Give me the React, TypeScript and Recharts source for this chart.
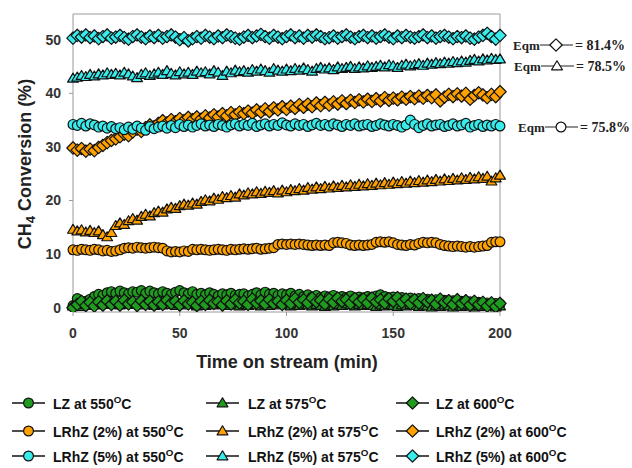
import React from "react";
import { ScatterChart, Scatter, XAxis, YAxis, ReferenceLine } from "recharts";

// Sampling times (min)
const times = [
  0, 2, 4, 6, 8, 10, 12, 14, 16, 18,
  20, 22, 24, 26, 28, 30, 32, 34, 36, 38,
  40, 42, 44, 46, 48, 50, 52, 54, 56, 58,
  60, 62, 64, 66, 68, 70, 72, 74, 76, 78,
  80, 82, 84, 86, 88, 90, 92, 94, 96, 98,
  100, 102, 104, 106, 108, 110, 112, 114, 116, 118,
  120, 122, 124, 126, 128, 130, 132, 134, 136, 138,
  140, 142, 144, 146, 148, 150, 152, 154, 156, 158,
  160, 162, 164, 166, 168, 170, 172, 174, 176, 178,
  180, 182, 184, 186, 188, 190, 192, 194, 196, 198,
  200,
];

// CH4 conversion (%) per catalyst / temperature
const lz550 = [
  0.4, 1.7, 0.9, 1.2, 1.6, 2.1, 2.5, 2.3, 2.8, 3.0,
  2.7, 3.1, 2.8, 2.6, 3.0, 2.9, 3.2, 2.7, 3.1, 2.8,
  2.6, 3.0, 2.7, 2.5, 2.9, 3.2, 2.8, 2.6, 3.0, 2.5,
  2.7, 2.4, 2.8, 2.5, 2.2, 2.6, 2.4, 2.7, 2.3, 2.5,
  2.6, 2.2, 2.5, 2.8, 2.4, 2.9, 2.5, 2.7, 2.3, 2.6,
  2.4, 2.7, 2.2, 2.5, 2.1, 2.4, 2.0, 2.3, 1.9, 2.2,
  2.0, 2.3, 1.8, 2.1, 1.9, 2.2, 1.7, 2.0, 1.8, 2.1,
  1.9, 2.2, 2.4, 2.1, 1.8, 2.0, 1.7, 1.9, 1.6, 1.8,
  1.5, 1.7, 1.4, 1.6, 1.3, 1.5, 1.2, 1.4, 1.1, 1.3,
  1.0, 1.2, 0.9, 1.1, 0.8, 1.0, 0.7, 0.9, 0.6, 0.8,
  0.7,
];
const lz575 = [
  0.3, 0.5, 0.2, 0.6, 0.4, 0.7, 0.5, 0.8, 0.6, 0.9,
  0.7, 0.5, 0.8, 0.6, 0.9, 0.7, 0.5, 0.8, 0.6, 0.4,
  0.7, 0.5, 0.8, 0.6, 0.4, 0.7, 0.5, 0.8, 0.6, 0.3,
  0.6, 0.4, 0.7, 0.5, 0.8, 0.6, 0.4, 0.7, 0.5, 0.3,
  0.6, 0.4, 0.7, 0.5, 0.3, 0.6, 0.4, 0.7, 0.5, 0.8,
  0.5, 0.3, 0.6, 0.4, 0.7, 0.5, 0.3, 0.6, 0.4, 0.2,
  0.5, 0.3, 0.6, 0.4, 0.7, 0.5, 0.3, 0.6, 0.4, 0.6,
  0.4, 0.2, 0.5, 0.3, 0.6, 0.4, 0.2, 0.5, 0.3, 0.6,
  0.4, 0.2, 0.5, 0.3, 0.1, 0.4, 0.2, 0.5, 0.3, 0.1,
  0.4, 0.2, 0.5, 0.3, 0.1, 0.4, 0.2, 0.5, 0.3, 0.1,
  0.3,
];
const lz600 = [
  0.0, 0.6, 1.2, 0.4, 1.0, 0.3, 1.1, 0.5, 1.3, 0.6,
  1.2, 0.5, 1.4, 0.7, 1.1, 0.4, 1.3, 0.6, 1.2, 0.5,
  1.1, 0.6, 1.4, 0.8, 1.2, 0.5, 1.3, 0.7, 1.0, 0.4,
  1.2, 0.6, 1.4, 0.8, 1.1, 0.5, 1.3, 0.7, 1.5, 0.9,
  1.2, 0.6, 1.6, 0.9, 1.3, 0.7, 1.5, 0.8, 1.2, 0.6,
  1.4, 0.8, 1.7, 1.0, 1.5, 0.9, 1.8, 1.1, 1.4, 0.7,
  1.6, 1.0, 1.8, 1.2, 1.5, 0.8, 1.7, 1.1, 1.6, 0.9,
  1.8, 1.1, 1.5, 0.9, 1.7, 1.2, 1.9, 1.0, 1.6, 0.8,
  1.5, 0.9, 1.7, 1.1, 1.4, 0.7, 1.6, 1.0, 1.3, 0.6,
  1.5, 0.8, 1.3, 0.5, 1.2, 0.6, 1.0, 0.3, 0.9, 0.2,
  0.8,
];
const rh2_550 = [
  10.8, 10.7, 10.9, 10.8, 10.7, 10.9, 10.8, 10.6, 10.7, 10.5,
  10.6, 10.8, 11.1, 11.2, 11.1, 11.3, 11.2, 11.1, 11.2, 11.3,
  11.2, 11.1, 10.6, 10.4, 10.5, 10.4, 10.6, 10.5, 10.9, 10.8,
  10.9, 10.8, 10.7, 10.8, 10.9, 10.8, 10.7, 10.9, 10.8, 10.9,
  11.0, 10.9, 11.0, 11.1, 10.9, 11.0, 11.1, 11.2, 11.8, 11.9,
  11.8, 11.9, 11.8, 11.9, 11.8, 11.7, 11.6, 11.7, 11.6, 11.7,
  11.6, 12.1, 12.2, 12.1, 12.0, 11.7, 11.6, 11.7, 11.6, 11.7,
  11.8, 12.2, 12.3, 12.2, 12.3, 12.1, 11.8, 11.7, 11.6, 11.8,
  11.7, 12.0, 12.2, 12.1, 12.2, 12.1, 11.8, 11.6, 11.5, 11.4,
  11.5, 11.4, 11.3, 11.4, 11.3, 11.4, 11.5, 11.6, 12.2, 12.3,
  12.3,
];
const rh2_575 = [
  14.6, 14.3, 14.5, 14.1, 14.4, 14.0, 14.3, 13.6, 13.2, 14.0,
  15.3, 15.8, 15.5, 16.2, 16.6, 16.3, 17.0, 17.4, 17.1, 17.7,
  18.0, 17.8, 18.4, 18.7, 18.5, 19.0, 19.3, 19.1, 19.5, 19.3,
  19.8, 20.1, 19.9, 20.4, 20.2, 20.7, 20.5, 20.9, 20.6, 21.2,
  21.0, 21.4, 21.2, 21.6, 21.3, 21.7, 21.5, 21.8, 21.4, 21.9,
  21.6, 22.0, 21.8, 22.2, 21.9, 22.4, 22.1, 22.5, 22.2, 22.6,
  22.3, 22.7, 22.4, 22.8, 22.5, 22.9, 22.6, 23.0, 22.7, 23.1,
  22.8, 23.2, 22.9, 23.3, 23.0, 23.4, 23.1, 23.5, 23.2, 23.6,
  23.3, 23.7, 23.4, 23.8, 23.5, 23.9, 23.6, 24.0, 23.7, 24.1,
  23.8, 24.2, 23.9, 24.3, 24.0, 24.4, 24.1, 24.5, 23.6, 24.2,
  24.7,
];
const rh2_600 = [
  29.8, 29.4, 29.7, 29.2, 29.6, 29.3, 29.9, 30.3, 30.8, 31.2,
  31.5, 31.9, 32.4, 32.1, 32.8, 33.3, 32.9, 33.6, 34.1, 33.8,
  34.4, 34.9, 34.5, 35.1, 34.7, 35.3, 34.9, 35.5, 35.1, 35.6,
  35.2, 35.8, 35.4, 36.0, 35.6, 36.2, 35.8, 36.4, 36.0, 36.5,
  36.2, 36.7, 36.3, 36.9, 36.5, 37.1, 36.6, 37.3, 36.9, 37.5,
  37.0, 37.6, 37.2, 37.9, 37.4, 38.0, 37.5, 38.2, 37.7, 38.3,
  37.8, 38.4, 38.0, 38.6, 38.1, 38.7, 38.3, 38.8, 38.4, 38.9,
  38.5, 39.0, 38.6, 39.2, 38.7, 39.1, 38.8, 39.3, 38.9, 39.4,
  39.0, 39.5, 39.1, 39.6, 39.2, 39.7, 38.6, 39.3, 39.8, 39.4,
  39.9, 39.5, 40.0, 38.9, 39.6, 40.1, 39.7, 39.2, 39.8, 39.4,
  40.3,
];
const rh5_550 = [
  34.2, 34.0, 34.4, 33.9, 34.3, 34.1, 33.7, 33.9, 33.5, 33.8,
  33.4, 33.6, 33.2, 33.7, 33.3, 33.9, 33.5, 33.1, 33.8, 33.4,
  33.7, 33.9, 33.5, 34.0, 33.6, 34.2, 33.8, 34.1, 33.7, 34.0,
  34.3, 33.9, 34.1, 33.8, 34.2, 34.0, 33.7, 34.1, 34.3, 33.9,
  34.2, 34.0, 34.4, 33.8, 34.1, 34.3, 33.9, 34.2, 34.0, 34.5,
  34.1, 33.9, 34.3, 34.0, 34.2, 33.8, 34.1, 34.4, 34.0, 34.2,
  33.9, 34.3, 34.1, 33.8, 34.2, 34.0, 34.3, 33.9, 34.1, 34.2,
  33.8, 34.0, 34.3, 34.1, 33.9, 34.2, 34.0, 33.7, 34.1, 35.0,
  34.2, 33.6, 34.0, 34.3, 33.9, 34.1, 34.2, 33.8, 34.0, 34.3,
  33.9, 34.1, 34.4, 33.7, 34.0, 34.2, 33.8, 34.1, 33.9, 34.2,
  33.9,
];
const rh5_575 = [
  42.8, 43.0, 43.3, 43.1, 43.5, 43.2, 43.6, 43.4, 43.8, 43.5,
  43.7, 43.4, 43.9, 43.6, 43.2, 42.9, 43.5, 43.8, 43.3, 43.6,
  43.9, 43.5, 44.2, 43.7, 43.4, 44.0, 43.6, 43.9, 43.5, 44.1,
  43.8, 44.0, 43.6, 44.2, 43.9, 43.3, 44.1, 43.8, 44.3, 44.0,
  44.2, 43.9, 44.4, 44.1, 44.5, 44.2, 43.9, 44.6, 44.3, 44.1,
  44.5, 44.2, 44.6, 44.3, 44.7, 44.4, 44.1, 44.6, 44.8, 44.5,
  44.7, 44.4, 44.9, 44.6, 44.8, 45.0, 44.6, 44.9, 44.7, 45.1,
  44.8, 45.0, 45.2, 44.9, 45.3, 45.1, 44.8, 45.2, 45.4, 45.1,
  45.3, 45.5, 45.2, 45.6, 45.4, 45.7, 45.5, 45.8, 45.6, 45.9,
  45.7, 46.0, 45.8, 46.1, 46.3, 46.0, 46.4, 46.2, 46.5, 46.3,
  46.4,
];
const rh5_600 = [
  50.3, 50.8, 50.5, 50.9, 50.4, 50.7, 50.2, 50.6, 50.9, 50.3,
  50.5, 50.8, 50.4, 50.1, 50.6, 50.9, 50.5, 50.2, 50.7, 50.4,
  50.8, 50.3, 50.6, 50.9, 50.5, 50.0, 50.4, 49.8, 50.2, 50.6,
  50.3, 50.8, 50.5, 50.2, 50.7, 50.4, 50.9, 50.6, 50.3, 50.1,
  50.5, 50.8, 50.4, 50.7, 51.0, 50.6, 50.3, 50.8, 50.5, 50.2,
  50.6, 50.9, 50.4, 50.7, 50.3, 50.8, 50.5, 50.9, 50.6, 50.2,
  50.4, 50.7, 50.3, 50.6, 50.9, 50.5, 50.2, 50.6, 50.8, 50.4,
  50.7, 50.3, 50.6, 50.9, 50.5, 50.2, 50.7, 50.4, 50.8, 50.5,
  50.3, 50.6, 50.9, 50.4, 50.7, 50.3, 50.6, 50.8, 50.5, 50.2,
  50.6, 50.4, 50.7, 50.3, 50.1, 50.5, 50.8, 51.2, 50.6, 50.1,
  50.8,
];

const xTicks = [0, 50, 100, 150, 200];
const yTicks = [0, 10, 20, 30, 40, 50];

// Equilibrium conversions shown beside the plot
const eqmLabels = ["= 81.4%", "= 78.5%", "= 75.8%"];

const GREEN = "#1f9b1f";
const ORANGE = "#ffa200";
const CYAN = "#38ecec";
const AXIS = "#9a9a9a";

type ShapeKind = "circle" | "triangle" | "diamond";

interface SeriesDef {
  catalyst: string;
  temp: number;
  shape: ShapeKind;
  fill: string;
  values: number[];
}

// Row-major legend order: catalyst rows, temperature columns
const series: SeriesDef[] = [
  { catalyst: "LZ", temp: 550, shape: "circle", fill: GREEN, values: lz550 },
  { catalyst: "LZ", temp: 575, shape: "triangle", fill: GREEN, values: lz575 },
  { catalyst: "LZ", temp: 600, shape: "diamond", fill: GREEN, values: lz600 },
  { catalyst: "LRhZ (2%)", temp: 550, shape: "circle", fill: ORANGE, values: rh2_550 },
  { catalyst: "LRhZ (2%)", temp: 575, shape: "triangle", fill: ORANGE, values: rh2_575 },
  { catalyst: "LRhZ (2%)", temp: 600, shape: "diamond", fill: ORANGE, values: rh2_600 },
  { catalyst: "LRhZ (5%)", temp: 550, shape: "circle", fill: CYAN, values: rh5_550 },
  { catalyst: "LRhZ (5%)", temp: 575, shape: "triangle", fill: CYAN, values: rh5_575 },
  { catalyst: "LRhZ (5%)", temp: 600, shape: "diamond", fill: CYAN, values: rh5_600 },
];

function MarkerGlyph({ cx, cy, shape, fill }: { cx: number; cy: number; shape: ShapeKind; fill: string }) {
  const stroke = "#111";
  const sw = 1.2;
  if (shape === "circle") {
    return <circle cx={cx} cy={cy} r={4.9} fill={fill} stroke={stroke} strokeWidth={sw} />;
  }
  if (shape === "triangle") {
    const pts = `${cx},${cy - 5.2} ${cx + 5.4},${cy + 3.8} ${cx - 5.4},${cy + 3.8}`;
    return <polygon points={pts} fill={fill} stroke={stroke} strokeWidth={sw} strokeLinejoin="round" />;
  }
  const pts = `${cx},${cy - 6.2} ${cx + 6.2},${cy} ${cx},${cy + 6.2} ${cx - 6.2},${cy}`;
  return <polygon points={pts} fill={fill} stroke={stroke} strokeWidth={sw} strokeLinejoin="round" />;
}

function TempText({ x, y, prefix, temp, size, family, weight }: any) {
  return (
    <text x={x} y={y} fontFamily={family} fontWeight={weight} fontSize={size} fill="#111" dominantBaseline="central">
      <tspan>{`${prefix} at ${temp}`}</tspan>
      <tspan dy={-5} fontSize={size * 0.7}>O</tspan>
      <tspan dy={5}>C</tspan>
    </text>
  );
}

const tickStyle = { fontFamily: "Liberation Sans, Arial, sans-serif", fontWeight: 700, fontSize: 14, fill: "#333" };
const serif = "Liberation Serif, Times New Roman, serif";
const sans = "Liberation Sans, Arial, sans-serif";

export default function App() {
  const legendCols = [
    { sym: 12, text: 53 },
    { sym: 206, text: 248 },
    { sym: 396, text: 436 },
  ];
  const legendRows = [403, 431, 456];
  const eqmRows = [
    { y: 45, x: 513, shape: "diamond" as ShapeKind },
    { y: 66, x: 514, shape: "triangle" as ShapeKind },
    { y: 127, x: 518, shape: "circle" as ShapeKind },
  ];

  return (
    <div style={{ position: "absolute", left: 0, top: 0, width: 632, height: 468, background: "#fff", overflow: "hidden" }}>
      <ScatterChart width={632} height={468} margin={{ top: 14, right: 132, left: 13, bottom: 126 }}>
        <XAxis
          type="number"
          dataKey="t"
          domain={[0, 200]}
          ticks={xTicks}
          height={30}
          stroke={AXIS}
          tickSize={4}
          tickMargin={12}
          tick={tickStyle}
          tickLine={{ stroke: AXIS }}
          axisLine={{ stroke: AXIS }}
        />
        <YAxis
          type="number"
          dataKey="v"
          domain={[-0.8, 54.8]}
          allowDataOverflow
          ticks={yTicks}
          width={60}
          stroke={AXIS}
          tickSize={4}
          tickMargin={8}
          tick={tickStyle}
          tickLine={{ stroke: AXIS }}
          axisLine={{ stroke: AXIS }}
        />
        <ReferenceLine y={54.8} stroke={AXIS} strokeWidth={1} ifOverflow="extendDomain" />
        <ReferenceLine x={200} stroke={AXIS} strokeWidth={1} />
        {series.map((s, idx) => (
          <Scatter
            key={idx}
            name={`${s.catalyst} at ${s.temp}`}
            data={times.map((t, i) => ({ t, v: s.values[i] }))}
            isAnimationActive={false}
            shape={(p: any) => <MarkerGlyph cx={p.cx} cy={p.cy} shape={s.shape} fill={s.fill} />}
          />
        ))}
      </ScatterChart>

      <svg width={632} height={468} style={{ position: "absolute", left: 0, top: 0, pointerEvents: "none" }}>
        {/* axis titles */}
        <text
          transform="translate(25,164) rotate(-90)"
          textAnchor="middle"
          dominantBaseline="central"
          fontFamily={sans}
          fontWeight={700}
          fontSize={18}
          fill="#222"
        >
          <tspan>CH</tspan>
          <tspan fontSize={13} dy={5}>4</tspan>
          <tspan dy={-5}> Conversion (%)</tspan>
        </text>
        <text x={287} y={362} textAnchor="middle" dominantBaseline="central" fontFamily={sans} fontWeight={700} fontSize={18} fill="#222">
          Time on stream (min)
        </text>

        {/* equilibrium notes */}
        {eqmRows.map((r, i) => (
          <g key={i}>
            <text x={r.x} y={r.y} dominantBaseline="central" fontFamily={serif} fontWeight={700} fontSize={13} fill="#222">
              Eqm
            </text>
            <line x1={r.x + 27} x2={r.x + 60} y1={r.y} y2={r.y} stroke="#222" strokeWidth={1.2} />
            <MarkerGlyph cx={r.x + 43} cy={r.y} shape={r.shape} fill="#fff" />
            <text x={r.x + 62} y={r.y} dominantBaseline="central" fontFamily={serif} fontWeight={700} fontSize={14} fill="#222">
              {eqmLabels[i]}
            </text>
          </g>
        ))}

        {/* legend */}
        {series.map((s, idx) => {
          const col = legendCols[idx % 3];
          const y = legendRows[Math.floor(idx / 3)];
          return (
            <g key={idx}>
              <line x1={col.sym} x2={col.sym + 33} y1={y} y2={y} stroke="#111" strokeWidth={1.4} />
              <MarkerGlyph cx={col.sym + 16.5} cy={y} shape={s.shape} fill={s.fill} />
              <TempText x={col.text} y={y + 1} prefix={s.catalyst} temp={s.temp} size={14} family={sans} weight={700} />
            </g>
          );
        })}
      </svg>
    </div>
  );
}
